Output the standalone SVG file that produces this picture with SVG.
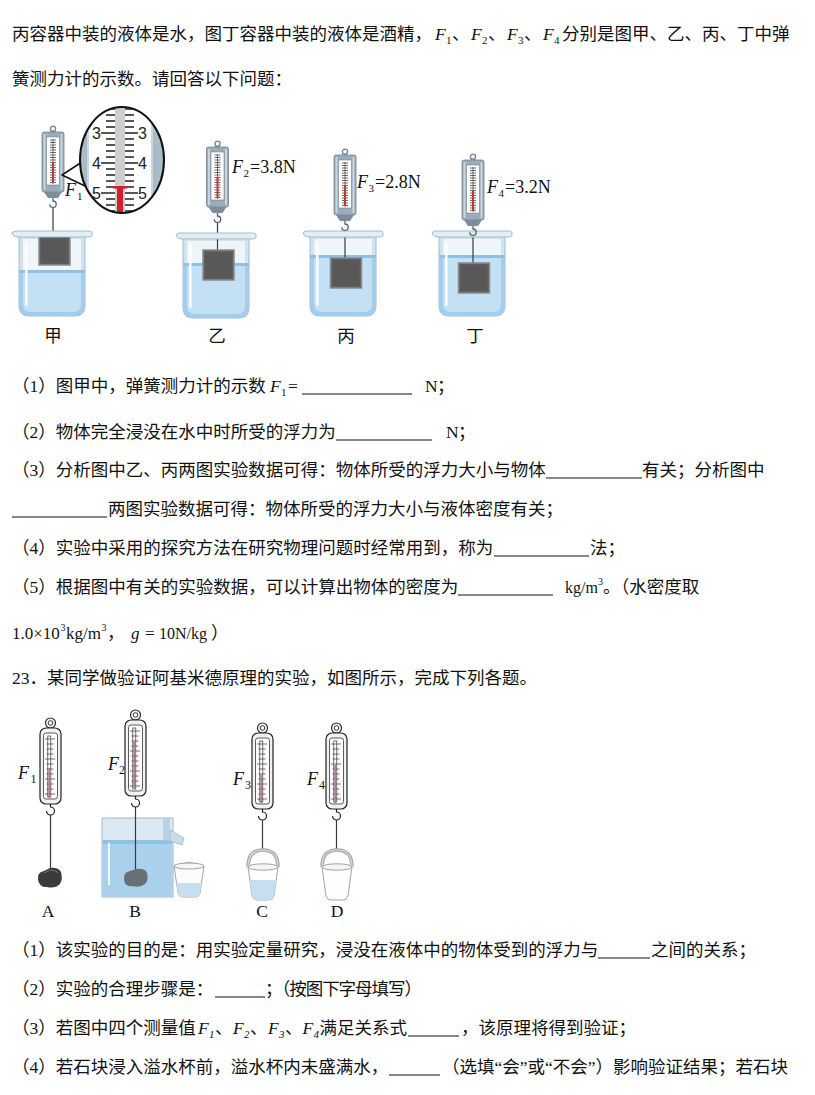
<svg xmlns="http://www.w3.org/2000/svg" width="815" height="1095" viewBox="0 0 815 1095">
<style>
.t{font-family:"Liberation Serif","Noto Sans CJK SC",serif;font-size:17.5px;fill:#111}
.it{font-style:italic}
.sub{font-size:11px}
.ln{stroke:#111;stroke-width:1.2}
.lab{font-family:"Liberation Serif","Noto Sans CJK SC",serif;font-size:17.5px;fill:#111;text-anchor:middle}
.num{font-family:"Liberation Sans",Arial,sans-serif;font-size:16px;fill:#222}
.str{stroke:#3a3a3a;stroke-width:1.2;fill:none}
</style>
<defs>
<clipPath id="bkOuter"><path d="M7,6 L73,6 L73,76 Q73,86 63,86 L17,86 Q7,86 7,76 Z"/></clipPath>
<clipPath id="bkInner"><path d="M11,9 L69,9 L69,74 Q69,82 61,82 L19,82 Q11,82 11,74 Z"/></clipPath>
<clipPath id="magClip"><ellipse cx="122" cy="160" rx="42" ry="53"/></clipPath>
<g id="bkBody">
<path d="M7,6 L73,6 L73,76 Q73,86 63,86 L17,86 Q7,86 7,76 Z" fill="#d3e3ee" stroke="#a4bccd" stroke-width="1"/>
<path d="M11,9 L69,9 L69,74 Q69,82 61,82 L19,82 Q11,82 11,74 Z" fill="#eff6fa"/>
</g>
<g id="bkLip">
<path d="M0,4 Q0,1 4,1 L77,1 Q80,1 80,3 L80,5 Q80,7 77,7 L6,7 Q2,7 0,4 Z" fill="#e3edf4" stroke="#a4bccd" stroke-width="1"/>
<rect x="13" y="12" width="2.6" height="64" rx="1.2" fill="#fff" opacity="0.9"/>
</g>
<g id="box">
<rect x="0" y="0" width="31" height="30" fill="#5e5e5e" stroke="#8c8c8c" stroke-width="1.5"/>
<rect x="2.5" y="2.5" width="26" height="25" fill="#585858"/>
</g>
<g id="scaleTop">
<ellipse cx="11" cy="2.8" rx="2.6" ry="2.6" fill="none" stroke="#6f8391" stroke-width="1.3"/>
<rect x="8.5" y="4.5" width="5" height="3" fill="#7d909d"/>
<rect x="0" y="6" width="22" height="60" rx="2" fill="#9aacb8" stroke="#6f8391" stroke-width="0.8"/>
<rect x="1.5" y="8" width="2" height="56" fill="#c8d5de"/>
<rect x="18.5" y="8" width="2" height="56" fill="#c8d5de"/>
<rect x="4.5" y="11" width="13" height="48" fill="#fff" stroke="#6f8391" stroke-width="0.6"/>
<path d="M11,13V58" stroke="#555" stroke-width="0.8"/>
<path d="M8,14h6M8,16.5h6M8,19h6M8,21.5h6M8,24h6M8,26.5h6M8,29h6M8,31.5h6M8,34h6M8,36.5h6M8,39h6M8,41.5h6M8,44h6M8,46.5h6M8,49h6M8,51.5h6M8,54h6M8,56.5h6" stroke="#333" stroke-width="0.7"/>
<rect x="10" y="36" width="2" height="21" fill="#c0392b"/>
<path d="M2,66 L20,66 L16,72 L6,72 Z" fill="#7b8e9b"/>
<path d="M11,72 v3 a3.2,3.2 0 1 1 -3.2,3.2" fill="none" stroke="#55636d" stroke-width="1.3"/>
</g>
<g id="scaleBot">
<circle cx="10.5" cy="-5" r="5" fill="#f4f4f4" stroke="#222" stroke-width="1.1"/>
<circle cx="10.5" cy="-5" r="2.3" fill="#fff" stroke="#222" stroke-width="0.9"/>
<rect x="0" y="0" width="21" height="76" rx="6" fill="#f2f2f2" stroke="#222" stroke-width="1.2"/>
<rect x="3.5" y="5" width="14" height="66" rx="2.5" fill="#fff" stroke="#333" stroke-width="0.8"/>
<rect x="7.8" y="8" width="3" height="61" fill="#fff" stroke="#333" stroke-width="0.7"/>
<path d="M5,11h10M6.5,16h7M6.5,21h7M6.5,26h7M5,31h10M6.5,36h7M6.5,41h7M6.5,46h7M5,51h10M6.5,56h7M6.5,61h7M5,66h10" stroke="#333" stroke-width="0.7"/>
<path d="M10.5,76 v3 a4,4 0 1 1 -4,4" fill="none" stroke="#222" stroke-width="1.2"/>
</g>
<g id="bucket">
<path d="M-15,0 Q-15,-17 0,-17 Q15,-17 15,0" fill="none" stroke="#a9a9a9" stroke-width="3.5"/>
<path d="M-15,0 Q-15,-17 0,-17 Q15,-17 15,0" fill="none" stroke="#dcdcdc" stroke-width="1.2"/>
<path d="M-15,0 L-11,29 Q-10,33 -6,33 L6,33 Q10,33 11,29 L15,0 Z" fill="#fdfdfd" stroke="#9a9a9a" stroke-width="0.9"/>
<ellipse cx="0" cy="0" rx="15" ry="3.2" fill="#f4f4f4" stroke="#9a9a9a" stroke-width="0.9"/>
</g>
</defs>
<rect width="815" height="1095" fill="#fff"/>

<g id="text-top">
<text class="t" x="12" y="40">丙容器中装的液体是水，图丁容器中装的液体是酒精，</text>
<text class="t it" x="435" y="40">F</text><text class="t sub" x="446" y="44">1</text>
<text class="t" x="452" y="40">、</text>
<text class="t it" x="471" y="40">F</text><text class="t sub" x="482" y="44">2</text>
<text class="t" x="488" y="40">、</text>
<text class="t it" x="507" y="40">F</text><text class="t sub" x="518" y="44">3</text>
<text class="t" x="524" y="40">、</text>
<text class="t it" x="543" y="40">F</text><text class="t sub" x="554" y="44">4</text>
<text class="t" x="562" y="40">分别是图甲、乙、丙、丁中弹</text>
<text class="t" x="12" y="85">簧测力计的示数。请回答以下问题：</text>
</g>

<g id="fig-jia">
<g transform="translate(12,230)">
<use href="#bkBody"/>
<rect x="0" y="40" width="80" height="50" fill="#a3cdea" clip-path="url(#bkOuter)"/>
<rect x="0" y="43" width="80" height="50" fill="#c3e0f4" clip-path="url(#bkInner)"/>
<rect x="0" y="40" width="80" height="3" fill="#8cc0e5" clip-path="url(#bkOuter)"/>
<line x1="41" y1="-23" x2="41" y2="5" class="str"/>
<use href="#box" x="27" y="5"/>
<use href="#bkLip"/>
</g>
<use href="#scaleTop" x="42" y="126"/>
</g>

<g id="magnifier">
<polygon points="62,175 85,160 85,186" fill="#fff" stroke="#111" stroke-width="1.5" stroke-linejoin="round"/>
<ellipse cx="122" cy="160" rx="42" ry="53" fill="#fff"/>
<g clip-path="url(#magClip)">
<rect x="78" y="100" width="11" height="120" fill="#a9bcc8"/>
<rect x="87" y="100" width="2" height="120" fill="#c9d6de"/>
<rect x="151" y="100" width="12" height="120" fill="#a9bcc8"/>
<rect x="151" y="100" width="2" height="120" fill="#c9d6de"/>
<rect x="115" y="100" width="10" height="120" fill="#cdcdcd"/>
<path d="M106,109h9M106,115h9M106,121h9M106,127h9M106,139h9M106,145h9M106,151h9M106,157h9M106,169h9M106,175h9M106,181h9M106,187h9M106,199h9M106,205h9M106,211h9M125,109h9M125,115h9M125,121h9M125,127h9M125,139h9M125,145h9M125,151h9M125,157h9M125,169h9M125,175h9M125,181h9M125,187h9M125,199h9M125,205h9M125,211h9" stroke="#222" stroke-width="1.6"/>
<path d="M101,133h14M125,133h13M101,163h14M125,163h13M101,193h14M125,193h13M101,103h14M125,103h13" stroke="#222" stroke-width="1.6"/>
<rect x="117" y="187" width="6" height="30" fill="#d0202a"/>
<rect x="113" y="186" width="14" height="2.6" fill="#d0202a"/>
<text class="num" x="101" y="139" text-anchor="end">3</text>
<text class="num" x="138" y="139">3</text>
<text class="num" x="101" y="169" text-anchor="end">4</text>
<text class="num" x="138" y="169">4</text>
<text class="num" x="101" y="199" text-anchor="end">5</text>
<text class="num" x="138" y="199">5</text>
</g>
<ellipse cx="122" cy="160" rx="42" ry="53" fill="none" stroke="#111" stroke-width="2"/>
<text class="t it" x="65" y="196" style="font-size:18px">F</text><text class="t sub" x="77" y="200">1</text>
</g>

<g id="fig-yi">
<g transform="translate(176,232)">
<use href="#bkBody"/>
<rect x="0" y="31" width="80" height="60" fill="#a3cdea" clip-path="url(#bkOuter)"/>
<rect x="0" y="34" width="80" height="60" fill="#c3e0f4" clip-path="url(#bkInner)"/>
<rect x="0" y="31" width="80" height="3" fill="#8cc0e5" clip-path="url(#bkOuter)"/>
<line x1="41.5" y1="-10" x2="41.5" y2="18" class="str"/>
<use href="#box" x="27" y="18"/>
<use href="#bkLip"/>
</g>
<use href="#scaleTop" x="206.5" y="141"/>
<text class="t it" x="232" y="173" style="font-size:18px">F</text><text class="t sub" x="243.5" y="177">2</text><text class="t" x="250" y="173" style="font-size:18px">=3.8N</text>
</g>

<g id="fig-bing">
<g transform="translate(303,230)">
<use href="#bkBody"/>
<rect x="0" y="25" width="80" height="66" fill="#a3cdea" clip-path="url(#bkOuter)"/>
<rect x="0" y="28" width="80" height="66" fill="#c3e0f4" clip-path="url(#bkInner)"/>
<rect x="0" y="25" width="80" height="3" fill="#8cc0e5" clip-path="url(#bkOuter)"/>
<line x1="42" y1="0" x2="42" y2="28" class="str"/>
<use href="#box" x="27.5" y="28"/>
<use href="#bkLip"/>
</g>
<use href="#scaleTop" x="334" y="149"/>
<text class="t it" x="357" y="188" style="font-size:18px">F</text><text class="t sub" x="368.5" y="192">3</text><text class="t" x="375" y="188" style="font-size:18px">=2.8N</text>
</g>

<g id="fig-ding">
<g transform="translate(432,230)">
<use href="#bkBody"/>
<rect x="0" y="25" width="80" height="66" fill="#a3cdea" clip-path="url(#bkOuter)"/>
<rect x="0" y="28" width="80" height="66" fill="#c3e0f4" clip-path="url(#bkInner)"/>
<rect x="0" y="25" width="80" height="3" fill="#8cc0e5" clip-path="url(#bkOuter)"/>
<line x1="41" y1="5" x2="41" y2="33" class="str"/>
<use href="#box" x="26.5" y="33"/>
<use href="#bkLip"/>
</g>
<use href="#scaleTop" x="462" y="154"/>
<text class="t it" x="487" y="193" style="font-size:18px">F</text><text class="t sub" x="498.5" y="197">4</text><text class="t" x="505" y="193" style="font-size:18px">=3.2N</text>
</g>

<g id="labels-top">
<text class="lab" x="53" y="342">甲</text>
<text class="lab" x="217" y="342">乙</text>
<text class="lab" x="346" y="342">丙</text>
<text class="lab" x="475" y="342">丁</text>
</g>

<g id="questions-22">
<text class="t" x="12" y="392">（1）图甲中，弹簧测力计的示数</text>
<text class="t it" x="270" y="392">F</text><text class="t sub" x="281" y="396">1</text><text class="t" x="288" y="392">=</text>
<line class="ln" x1="302" y1="394" x2="412" y2="394"/>
<text class="t" x="425" y="392">N</text><text class="t" x="437" y="392">；</text>

<text class="t" x="12" y="438">（2）物体完全浸没在水中时所受的浮力为</text>
<line class="ln" x1="336" y1="440" x2="432" y2="440"/>
<text class="t" x="446" y="438">N</text><text class="t" x="458" y="438">；</text>

<text class="t" x="12" y="476">（3）分析图中乙、丙两图实验数据可得：物体所受的浮力大小与物体</text>
<line class="ln" x1="546" y1="478" x2="642" y2="478"/>
<text class="t" x="642" y="476">有关；分析图中</text>
<line class="ln" x1="12" y1="517" x2="107" y2="517"/>
<text class="t" x="108" y="515">两图实验数据可得：物体所受的浮力大小与液体密度有关；</text>

<text class="t" x="12" y="554">（4）实验中采用的探究方法在研究物理问题时经常用到，称为</text>
<line class="ln" x1="494" y1="556" x2="589" y2="556"/>
<text class="t" x="590" y="554">法；</text>

<text class="t" x="12" y="593">（5）根据图中有关的实验数据，可以计算出物体的密度为</text>
<line class="ln" x1="458" y1="595" x2="553" y2="595"/>
<text class="t" x="565" y="593" style="font-size:16px">kg/m</text><text class="t" x="598" y="585" style="font-size:10px">3</text>
<text class="t" x="603" y="593">。（水密度取</text>

<text class="t" x="12" y="639" style="font-size:17px">1.0×10</text><text class="t" x="60.5" y="631" style="font-size:10px">3</text>
<text class="t" x="66" y="639" style="font-size:17px">kg/m</text><text class="t" x="101.5" y="631" style="font-size:10px">3</text>
<text class="t" x="107" y="639">，</text>
<text class="t it" x="131" y="639" style="font-size:17px">g</text>
<text class="t" x="145" y="639" style="font-size:17px">=</text>
<text class="t" x="159" y="639" style="font-size:16px">10N/kg</text>
<text class="t" x="211" y="639">）</text>

<text class="t" x="12" y="684">23</text><text class="t" x="29.5" y="684">．</text>
<text class="t" x="47" y="684">某同学做验证阿基米德原理的实验，如图所示，完成下列各题。</text>
</g>

<g id="fig-A">
<use href="#scaleBot" x="40" y="728"/>
<rect x="48.3" y="768" width="2" height="30" fill="#b27b95"/>
<line x1="50.5" y1="815" x2="50.5" y2="870" class="str"/>
<path d="M38,880 Q37,872 44,871 L50,868 Q58,867 61,872 Q63,879 60,884 Q55,889 47,887 Q40,888 38,880 Z" fill="#3b3b3b"/>
<path d="M44,873 L50,870 Q56,870 58,873" fill="none" stroke="#6a6a6a" stroke-width="1.2"/>
<text class="t it" x="18" y="779" style="font-size:18px">F</text><text class="t" x="30.5" y="783" style="font-size:12px">1</text>
<text class="lab" x="48" y="917">A</text>
</g>

<g id="fig-B">
<rect x="102" y="818" width="71" height="79" fill="#dde9f2" stroke="#9fb9cc" stroke-width="1"/>
<rect x="102.5" y="840" width="70" height="56.5" fill="#a9d1ec"/>
<rect x="102.5" y="840" width="70" height="4" fill="#8fc1e4"/>
<rect x="163" y="818.5" width="7" height="22" fill="#bcd2e2"/>
<polygon points="170,830 184,838 182,845 170,841" fill="#c7dbe8" stroke="#9fb9cc" stroke-width="0.8"/>
<rect x="108" y="843" width="2" height="42" fill="#fff" opacity="0.9"/>
<line x1="135.5" y1="807" x2="135.5" y2="872" class="str"/>
<path d="M124,880 Q123,872 130,871 L136,869 Q145,868 147,873 Q149,880 145,884 Q140,888 132,886 Q125,887 124,880 Z" fill="#6b7075"/>
<use href="#scaleBot" x="125" y="720"/>
<rect x="133.3" y="742" width="2" height="46" fill="#b27b95"/>
<path d="M175,867 Q189,858 203,867" fill="none" stroke="#aaa" stroke-width="1"/>
<path d="M174,866 L178,893 Q179,897 183,897 L195,897 Q199,897 200,893 L204,866 Z" fill="#fcfcfc" stroke="#999" stroke-width="0.9"/>
<path d="M176.2,883 L178,893 Q179,897 183,897 L195,897 Q199,897 200,893 L201.8,883 Z" fill="#c6dff0"/>
<ellipse cx="189" cy="866" rx="15" ry="3" fill="#f6f6f6" stroke="#999" stroke-width="0.9"/>
<text class="t it" x="108" y="770" style="font-size:18px">F</text><text class="t" x="119" y="774" style="font-size:12px">2</text>
<text class="lab" x="135" y="917">B</text>
</g>

<g id="fig-C">
<use href="#scaleBot" x="252" y="733"/>
<rect x="260.3" y="775" width="2" height="28" fill="#b27b95"/>
<line x1="262.5" y1="820" x2="262.5" y2="851" class="str"/>
<use href="#bucket" x="263" y="867"/>
<path d="M249.6,880 L252,896 Q253,900 257,900 L269,900 Q273,900 274,896 L276.4,880 Z" fill="#c6dff0"/>
<text class="t it" x="233" y="785" style="font-size:18px">F</text><text class="t" x="245" y="789" style="font-size:12px">3</text>
<text class="lab" x="262" y="917">C</text>
</g>

<g id="fig-D">
<use href="#scaleBot" x="326" y="733"/>
<rect x="334.3" y="765" width="2" height="38" fill="#b27b95"/>
<line x1="336.5" y1="820" x2="336.5" y2="851" class="str"/>
<use href="#bucket" x="337" y="867"/>
<text class="t it" x="307" y="785" style="font-size:18px">F</text><text class="t" x="319" y="789" style="font-size:12px">4</text>
<text class="lab" x="337" y="917">D</text>
</g>

<g id="questions-23">
<text class="t" x="12" y="956">（1）该实验的目的是：用实验定量研究，浸没在液体中的物体受到的浮力与</text>
<line class="ln" x1="598" y1="958" x2="650" y2="958"/>
<text class="t" x="651" y="956">之间的关系；</text>

<text class="t" x="12" y="995">（2）实验的合理步骤是：</text>
<line class="ln" x1="215" y1="997" x2="265" y2="997"/>
<text class="t" x="265" y="995" textLength="157" lengthAdjust="spacing">；（按图下字母填写）</text>

<text class="t" x="12" y="1034">（3）若图中四个测量值</text>
<text class="t it" x="198" y="1034">F</text><text class="t it sub" x="209" y="1038">1</text>
<text class="t" x="215" y="1034">、</text>
<text class="t it" x="233" y="1034">F</text><text class="t it sub" x="244" y="1038">2</text>
<text class="t" x="250" y="1034">、</text>
<text class="t it" x="268" y="1034">F</text><text class="t it sub" x="279" y="1038">3</text>
<text class="t" x="285" y="1034">、</text>
<text class="t it" x="302.5" y="1034">F</text><text class="t it sub" x="313.5" y="1038">4</text>
<text class="t" x="319.5" y="1034">满足关系式</text>
<line class="ln" x1="408" y1="1036" x2="459" y2="1036"/>
<text class="t" x="461" y="1034">，该原理将得到验证；</text>

<text class="t" x="12" y="1073">（4）若石块浸入溢水杯前，溢水杯内未盛满水，</text>
<line class="ln" x1="389" y1="1075" x2="440" y2="1075"/>
<text class="t" x="442" y="1073">（选填“会”或“不会”）影响验证结果；若石块</text>
</g>
</svg>
